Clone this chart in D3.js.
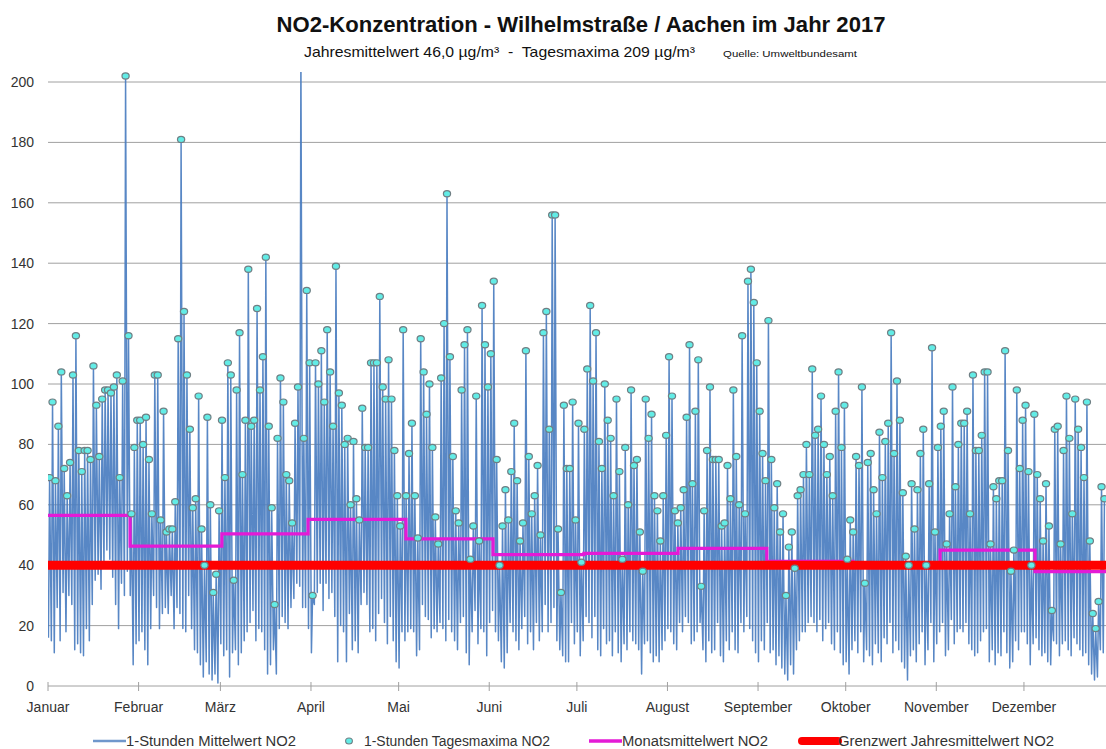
<!DOCTYPE html>
<html><head><meta charset="utf-8">
<script src="https://cdn.jsdelivr.net/npm/d3@7"></script>
<style>body{margin:0;background:#fff}svg{display:block}</style>
</head><body><svg id="c" width="1106" height="749"></svg>
<script>
// ---------- DATA ----------
const months = ["Januar","Februar","März","April","Mai","Juni","Juli","August","September","Oktober","November","Dezember"];
const monthStartDay = [0,31,59,90,120,151,181,212,243,273,304,334];
const yTicks = [0,20,40,60,80,100,120,140,160,180,200];

// daily maxima of the 1-hour values (µg/m³), Jan 1 .. Dec 28 (visible part)
const dailyMax = [
 69,94,68,86,104,72,63,74,103,116,78,71,78,78,75,106,93,76,95,98,98,97,99,103,69,101,202,116,57,79,88,
 88,80,89,75,57,103,103,55,91,51,52,52,61,115,181,124,103,85,59,62,96,52,40,89,60,31,37,58,
 88,69,107,103,35,98,117,70,88,138,86,88,125,98,109,142,86,59,27,82,102,94,70,68,54,87,99,209,82,131,107,
 30,107,100,111,94,118,104,86,139,97,93,80,82,60,81,62,55,92,79,79,107,107,107,129,99,95,108,95,78,63,
 53,118,63,77,87,63,49,115,104,90,100,79,56,47,102,120,163,109,76,58,54,98,113,118,42,53,96,48,126,113,99,
 110,134,75,40,53,65,55,71,87,68,48,54,111,76,57,63,73,50,117,124,85,156,156,52,31,93,72,72,94,55,
 87,41,85,105,126,101,117,81,72,100,88,82,63,95,71,42,79,60,98,73,75,51,38,95,82,90,63,58,48,63,83,
 109,96,58,54,59,65,89,113,67,91,108,33,58,78,99,75,75,75,53,54,73,62,98,76,60,116,57,134,138,127,107,
 91,77,68,121,75,59,67,51,57,30,46,51,39,63,65,70,80,70,105,83,85,96,80,70,76,63,91,104,79,93,
 42,55,51,76,73,99,34,74,77,65,57,84,69,81,87,117,77,101,88,64,43,40,67,52,65,77,85,40,67,112,51,
 79,86,91,47,57,99,66,80,87,87,91,57,103,78,78,83,104,104,47,66,62,68,68,111,78,38,45,98,72,88,
 93,71,40,90,70,62,48,67,53,25,85,86,47,78,96,82,57,95,85,79,69,94,48,24,19,28,66,62
];

// daily minima of the 1-hour values (estimated from the lower ends of the hourly line)
const dailyMin = [
 16,15,11,26,15,31,18,30,27,12,14,11,10,19,15,27,35,37,32,40,45,42,36,27,19,34,30,38,30,7,14,
 15,18,12,7,19,30,26,19,24,26,24,30,19,26,24,19,18,30,19,12,11,7,3,8,4,2,4,1,
 14,10,12,3,11,12,7,11,15,18,21,25,15,19,18,12,4,7,12,4,19,23,21,19,26,29,34,33,26,26,19,
 11,27,31,34,25,34,29,31,23,8,20,18,8,24,12,15,11,27,31,27,18,19,15,24,29,21,14,23,15,8,
 6,18,15,18,19,18,10,12,27,23,22,16,19,18,21,19,15,22,18,15,12,21,23,11,7,18,25,14,19,18,10,
 21,25,18,15,8,6,11,21,18,15,12,19,23,14,18,12,21,15,18,27,18,21,26,15,12,10,8,8,21,14,
 18,10,15,23,21,16,23,12,10,19,14,15,10,18,11,8,14,12,18,15,14,12,4,14,15,11,8,10,8,12,15,
 19,18,14,12,21,18,23,21,14,15,18,21,12,8,15,11,12,21,10,8,15,12,18,12,11,21,18,23,19,15,11,
 8,15,12,21,11,12,7,10,6,4,2,7,4,12,15,18,18,21,23,21,18,22,15,19,21,14,12,18,11,7,
 8,4,12,15,11,18,8,12,10,7,14,11,8,16,14,21,11,15,12,8,6,2,10,12,8,14,18,7,12,21,8,
 14,18,21,10,12,22,14,18,19,18,21,14,12,10,11,15,18,19,8,12,7,11,10,18,11,6,8,15,12,18,
 18,14,7,14,16,12,10,11,8,7,15,14,10,14,15,12,10,16,14,12,10,11,7,4,2,3,12,11
];

// monthly means (µg/m³) and the day at which each step of that line begins
const monthlyMean = [56.5,46.3,50.4,55.2,48.7,43.5,43.9,45.6,41.3,40.0,45.0,37.9];
const monthlyMeanStart = [0,28.1,59.5,89,122.5,152.3,183.4,215.6,246,275.5,305.3,337.8];
const yearEnd = 365;
const limitValue = 40;

const legendLabels = ["1-Stunden Mittelwert NO2","1-Stunden Tagesmaxima NO2","Monatsmittelwert NO2","Grenzwert Jahresmittelwert NO2"];

// ---------- CHART ----------
const W = 1106, H = 749;
const FONT = "'Liberation Sans', Arial, sans-serif";
const svg = d3.select("#c");
svg.append("rect").attr("width", W).attr("height", H).attr("fill", "#fff");

const x = d3.scaleLinear().domain([0, 365]).range([48, 48 + 365 * 2.922]);
const y = d3.scaleLinear().domain([0, 200]).range([686, 82]);

svg.append("defs").append("clipPath").attr("id", "plot")
  .append("rect").attr("x", 48).attr("y", 72).attr("width", W - 48).attr("height", 620);

// grid
svg.append("g").selectAll("line").data(yTicks.filter(t => t > 0)).join("line")
  .attr("x1", 48).attr("x2", W).attr("y1", d => y(d)).attr("y2", d => y(d))
  .attr("stroke", "#a0a0a0").attr("stroke-width", 1);

// y labels
svg.append("g").selectAll("text").data(yTicks).join("text")
  .attr("x", 34).attr("y", d => y(d) + 5).attr("text-anchor", "end")
  .attr("font-family", FONT).attr("font-size", 14).attr("fill", "#333")
  .text(d => d);

// x axis
svg.append("line").attr("x1", 48).attr("x2", W).attr("y1", y(0)).attr("y2", y(0))
  .attr("stroke", "#a0a0a0").attr("stroke-width", 1);
svg.append("g").selectAll("line").data(monthStartDay).join("line")
  .attr("x1", d => x(d)).attr("x2", d => x(d)).attr("y1", y(0) - 4).attr("y2", y(0) + 5)
  .attr("stroke", "#a0a0a0");
svg.append("g").selectAll("text").data(months).join("text")
  .attr("x", (d, i) => x(monthStartDay[i])).attr("y", 712).attr("text-anchor", "middle")
  .attr("font-family", FONT).attr("font-size", 14).attr("fill", "#333")
  .text(d => d);

const plot = svg.append("g").attr("clip-path", "url(#plot)");

// hourly line approximated by daily min -> max zigzag
const hourly = [];
dailyMax.forEach((mx, d) => {
  hourly.push([d + 0.15, dailyMin[d]]);
  hourly.push([d + 0.55, mx]);
});
plot.append("path").datum(hourly)
  .attr("d", d3.line().x(p => x(p[0])).y(p => y(p[1])))
  .attr("fill", "none").attr("stroke", "#4a7dc0").attr("stroke-width", 1.5)
  .attr("stroke-linejoin", "round").attr("opacity", 0.92);

// monthly mean step line
const stepPts = [];
monthlyMean.forEach((v, i) => {
  const s = monthlyMeanStart[i];
  const e = i < monthlyMean.length - 1 ? monthlyMeanStart[i + 1] : yearEnd;
  stepPts.push([s, v]); stepPts.push([e, v]);
});
plot.append("path").datum(stepPts)
  .attr("d", d3.line().x(p => x(p[0])).y(p => y(p[1])))
  .attr("fill", "none").attr("stroke", "#e41ad6").attr("stroke-width", 3.2);

// limit line
plot.append("path").datum([[0, limitValue], [yearEnd, limitValue]])
  .attr("d", d3.line().x(p => x(p[0])).y(p => y(p[1])))
  .attr("fill", "none").attr("stroke", "#ff0000").attr("stroke-width", 9);

// daily maxima dots
plot.append("g").selectAll("ellipse").data(dailyMax).join("ellipse")
  .attr("cx", (d, i) => x(i + 0.55)).attr("cy", d => y(d))
  .attr("rx", 3.6).attr("ry", 3.1)
  .attr("fill", "#62ece6").attr("stroke", "#6f7f84").attr("stroke-width", 1.2);

// titles
svg.append("text").attr("x", 581).attr("y", 32).attr("text-anchor", "middle")
  .attr("font-family", FONT).attr("font-weight", "bold").attr("font-size", 22).attr("fill", "#111")
  .attr("textLength", 609).attr("lengthAdjust", "spacingAndGlyphs")
  .text("NO2-Konzentration - Wilhelmstraße / Aachen im Jahr 2017");
svg.append("text").attr("x", 304).attr("y", 57)
  .attr("font-family", FONT).attr("font-size", 14.5).attr("fill", "#111")
  .attr("textLength", 391).attr("lengthAdjust", "spacingAndGlyphs")
  .attr("xml:space", "preserve")
  .text("Jahresmittelwert 46,0 µg/m³  -  Tagesmaxima 209 µg/m³");
svg.append("text").attr("x", 723).attr("y", 57)
  .attr("font-family", FONT).attr("font-size", 9.5).attr("fill", "#111")
  .attr("textLength", 134).attr("lengthAdjust", "spacingAndGlyphs")
  .text("Quelle: Umweltbundesamt");

// legend
const lg = svg.append("g").attr("font-family", FONT).attr("font-size", 14).attr("fill", "#333");
const ly = 741;
lg.append("line").attr("x1", 93).attr("x2", 126).attr("y1", ly).attr("y2", ly).attr("stroke", "#6f97cc").attr("stroke-width", 2.5);
lg.append("text").attr("x", 126).attr("y", ly + 5).attr("textLength", 170).attr("lengthAdjust", "spacingAndGlyphs").text(legendLabels[0]);
lg.append("ellipse").attr("cx", 349).attr("cy", ly).attr("rx", 3.4).attr("ry", 3).attr("fill", "#62ece6").attr("stroke", "#6f7f84").attr("stroke-width", 1.1);
lg.append("text").attr("x", 364).attr("y", ly + 5).attr("textLength", 186).attr("lengthAdjust", "spacingAndGlyphs").text(legendLabels[1]);
lg.append("line").attr("x1", 589).attr("x2", 622).attr("y1", ly).attr("y2", ly).attr("stroke", "#e41ad6").attr("stroke-width", 3.5);
lg.append("text").attr("x", 622).attr("y", ly + 5).attr("textLength", 146).attr("lengthAdjust", "spacingAndGlyphs").text(legendLabels[2]);
lg.append("line").attr("x1", 802).attr("x2", 838).attr("y1", ly).attr("y2", ly).attr("stroke", "#ff0000").attr("stroke-width", 8).attr("stroke-linecap", "round");
lg.append("text").attr("x", 838).attr("y", ly + 5).attr("textLength", 216).attr("lengthAdjust", "spacingAndGlyphs").text(legendLabels[3]);
</script></body></html>
